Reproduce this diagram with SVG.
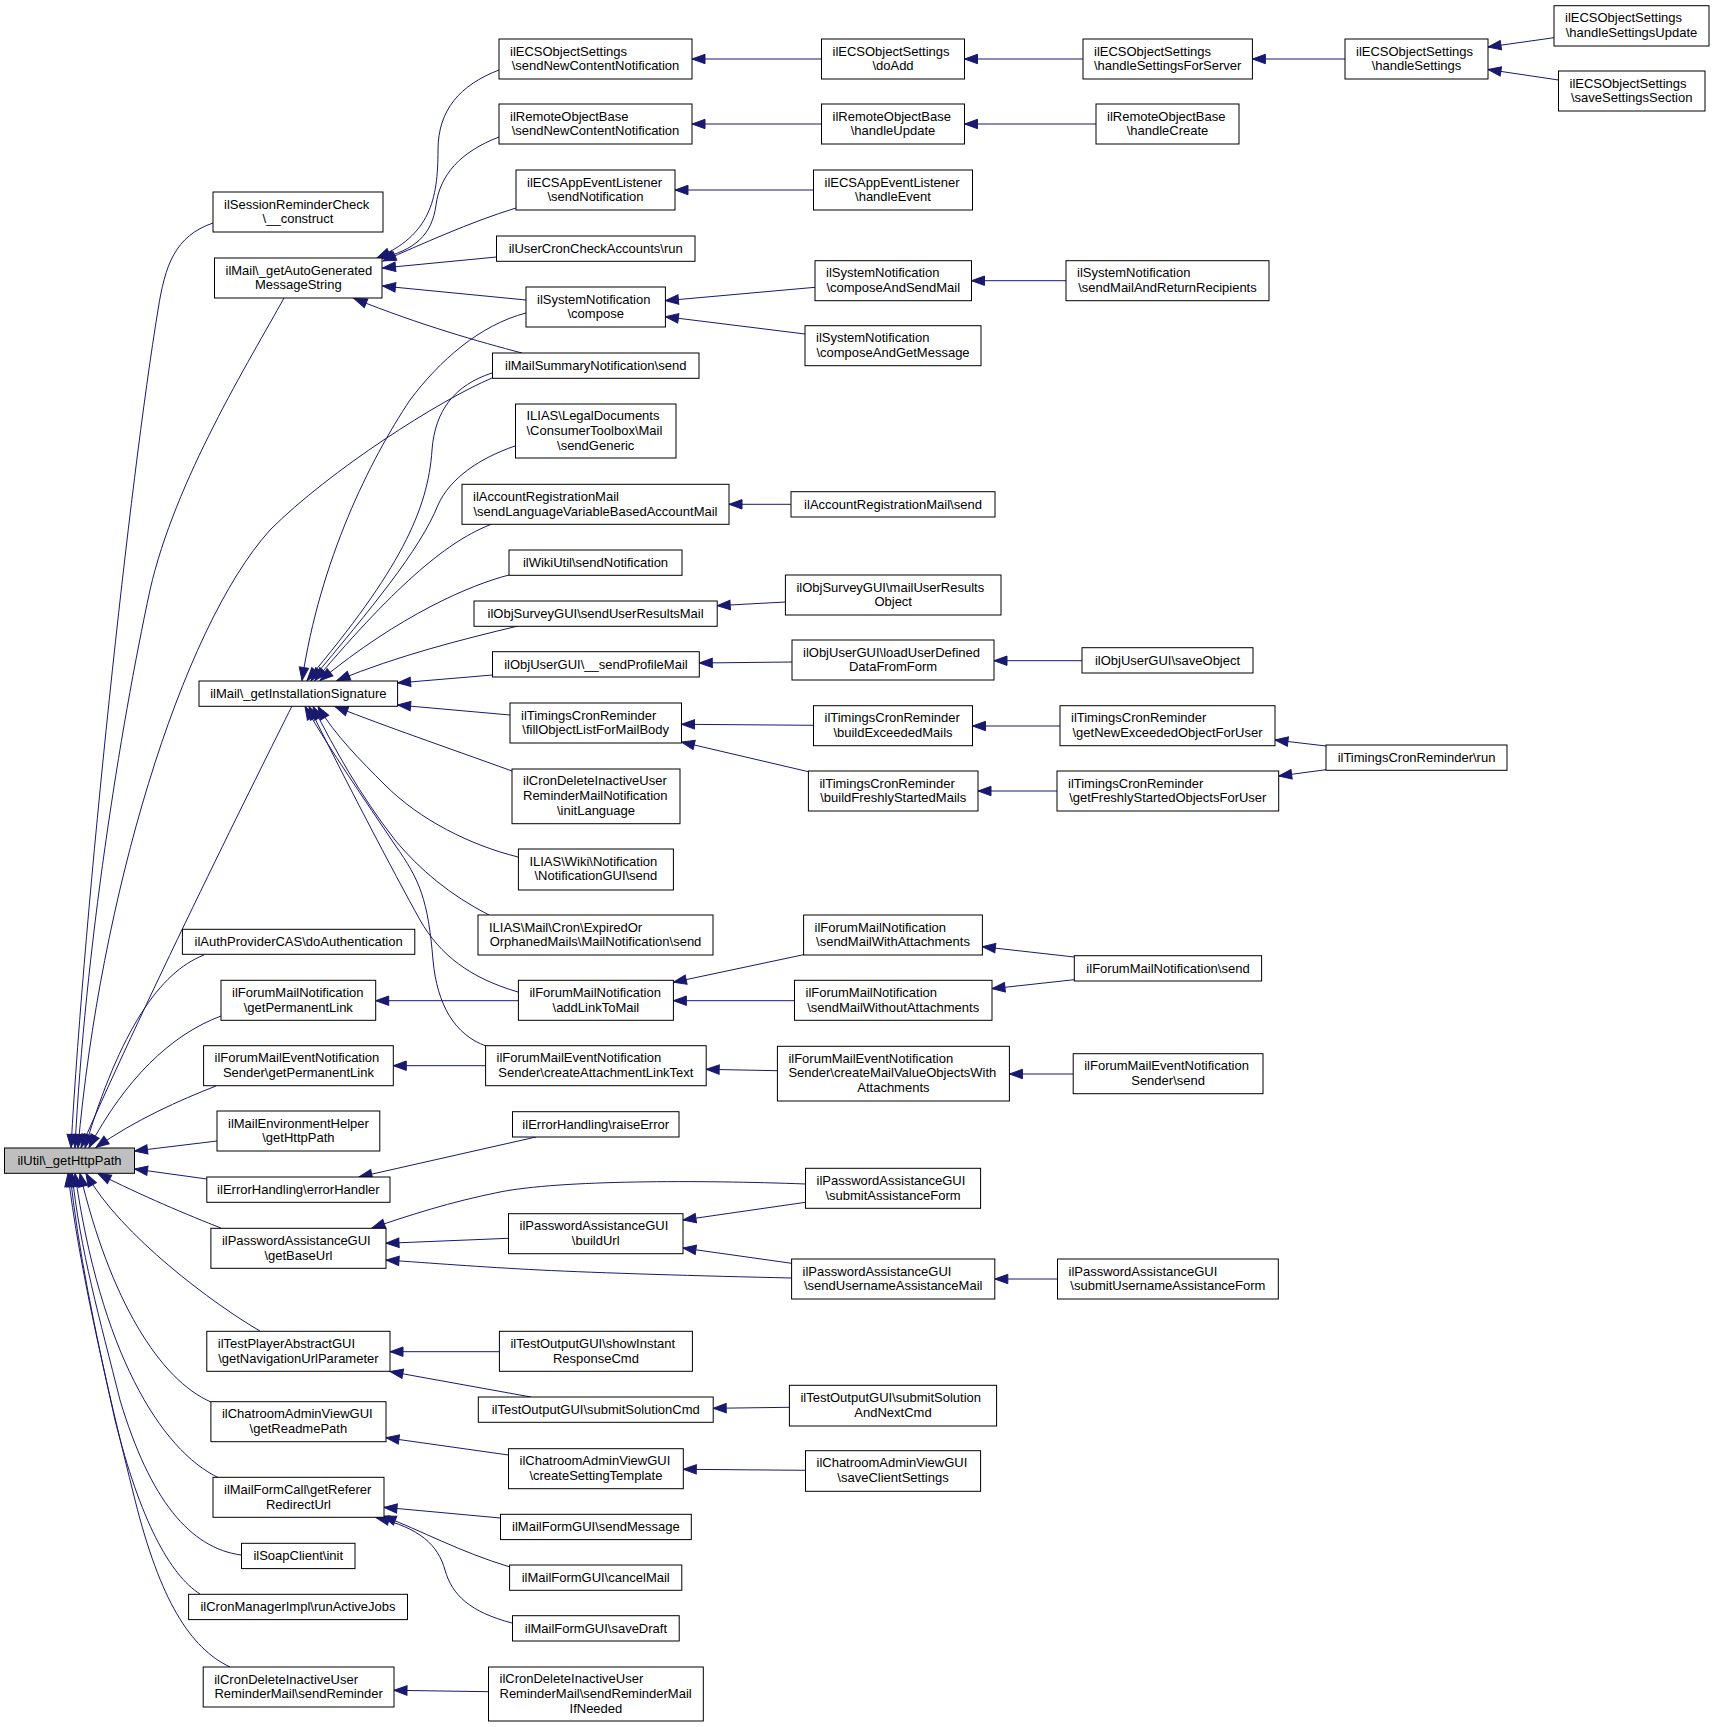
<svg xmlns="http://www.w3.org/2000/svg" width="1715" height="1727" viewBox="0 0 1715 1727">
<style>
.node rect{fill:#fff;stroke:#000;stroke-width:1}
#n_root rect{fill:#bfbfbf}
text{font-family:"Liberation Sans",Arial,Helvetica,sans-serif;font-size:13px;fill:#000}
.m{text-anchor:middle}
#edges path{fill:none;stroke:#191970;stroke-width:1;marker-end:url(#ah)}
</style>
<defs>
<marker id="ah" markerUnits="userSpaceOnUse" markerWidth="16" markerHeight="12" viewBox="-1 -6 16 12" refX="13" refY="0" orient="auto" overflow="visible"><path d="M0,-4.7 L13,0 L0,4.7 z" fill="#191970" stroke="#191970" stroke-width="1"/></marker>
</defs>
<rect x="0" y="0" width="1715" height="1727" fill="#fff"/>
<g id="edges">
<path d="M213,223 C175,236 165,265 158,310 C130,480 85,900 71,1147.5"/>
<path d="M284,298 C250,360 175,480 150,590 C120,730 85,950 75,1147.5"/>
<path d="M492,378 C440,400 330,470 270,530 C180,630 100,900 78,1147.5"/>
<path d="M292,706 C260,770 150,990 81,1147.5"/>
<path d="M204,955 C160,972 120,1030 85,1147.5"/>
<path d="M221,1016 C170,1035 125,1080 89,1147.5"/>
<path d="M216,1086 C180,1100 135,1120 96,1147.5"/>
<path d="M217,1141 L134.5,1151"/>
<path d="M207,1179 L134.5,1169"/>
<path d="M221,1228 C190,1216 140,1195 98,1173.5"/>
<path d="M260,1331 C215,1305 120,1235 86,1173.5"/>
<path d="M211,1402 C160,1380 110,1300 80,1173.5"/>
<path d="M219,1478 C160,1450 100,1350 75,1173.5"/>
<path d="M241,1555 C190,1548 150,1500 120,1400 C100,1320 80,1250 72,1173.5"/>
<path d="M200,1594 C170,1575 140,1520 115,1420 C95,1330 78,1250 70,1173.5"/>
<path d="M230,1667 C190,1648 160,1600 135,1500 C105,1380 78,1260 68,1173.5"/>
<path d="M499,70 C460,85 438,110 438,150 C438,200 430,235 377,258"/>
<path d="M499,137 C460,152 440,175 436,205 C432,235 415,250 380,258.5"/>
<path d="M516,208 C470,222 420,245 383,261"/>
<path d="M496.5,257 L382.5,268"/>
<path d="M526,300 L382.5,286"/>
<path d="M522,353 C480,342 420,325 354,298.5"/>
<path d="M526,313 C480,325 440,360 410,400 C370,460 320,560 302,680.5"/>
<path d="M492,373 C455,385 435,410 432,450 C428,510 400,570 307,680.5"/>
<path d="M515,446 C480,458 450,478 438,505 C420,550 370,610 311,680.5"/>
<path d="M492,524 C450,540 400,580 315,680.5"/>
<path d="M509,575 C470,585 400,615 320,680.5"/>
<path d="M518,626 C460,640 400,655 337,680.5"/>
<path d="M492.5,675 L397.6,683"/>
<path d="M510,715 L397.6,705"/>
<path d="M512,771 C440,745 390,728 335,706.5"/>
<path d="M518,857 C470,845 420,820 385,785 C360,760 335,735 318,706.5"/>
<path d="M489,915 C450,895 420,870 395,840 C360,795 335,750 313,706.5"/>
<path d="M518,992 C470,978 440,955 420,920 C395,875 340,770 309,706.5"/>
<path d="M486,1046 C455,1035 437,1005 433,960 C428,900 420,880 395,845 C365,800 330,750 305,706.5"/>
<path d="M821.5,59 L692,59"/>
<path d="M1083,59 L964.5,59"/>
<path d="M1345,59 L1252.4,59"/>
<path d="M1554,37.7 L1488,47"/>
<path d="M1558.5,80 L1488,69.5"/>
<path d="M821.5,124 L692,124"/>
<path d="M1096,124 L964.5,124"/>
<path d="M813.5,190 L675,190"/>
<path d="M815,287.3 L665.4,300.7"/>
<path d="M805,334 L665.4,316.7"/>
<path d="M1066,280.7 L971.5,280.7"/>
<path d="M791,504.3 L729,504.3"/>
<path d="M785.4,602 L717.2,605.7"/>
<path d="M792,662 L699.3,663"/>
<path d="M1082,660.7 L994,660.7"/>
<path d="M813.5,725.3 L681.5,724.3"/>
<path d="M808.4,771.7 L681.5,742"/>
<path d="M1060,726 L972.5,726"/>
<path d="M1057,791 L978,791"/>
<path d="M1326,746 L1275,740"/>
<path d="M1326,769.7 L1278.7,776"/>
<path d="M803.6,954.7 L673.4,982.3"/>
<path d="M794.5,1000.7 L673.4,1000.7"/>
<path d="M1074.3,957 L982.4,946.7"/>
<path d="M1074.3,979.7 L992,988.7"/>
<path d="M518.4,1000.7 L375.7,1000.7"/>
<path d="M485.6,1065.7 L393.3,1065.7"/>
<path d="M777.4,1070.7 L706.2,1069.3"/>
<path d="M1073.2,1074 L1009.4,1074"/>
<path d="M536,1137 L359,1177"/>
<path d="M805.5,1184 C700,1180 560,1180 500,1192 C450,1202 410,1215 372,1228"/>
<path d="M508.5,1238.3 L386,1243.3"/>
<path d="M792,1278 C700,1276 600,1273 540,1270 C480,1267 430,1263 386,1260"/>
<path d="M805.5,1202.3 L683,1220"/>
<path d="M791.6,1263.3 L683,1248"/>
<path d="M1057.5,1279 L994.8,1279"/>
<path d="M499.4,1351.7 L390,1351.7"/>
<path d="M531,1397 L390,1371.5"/>
<path d="M789.4,1407.3 L713.2,1408.3"/>
<path d="M508.5,1455 L386,1437.7"/>
<path d="M805.5,1470.3 L683.3,1469.3"/>
<path d="M500.5,1518 L384,1507.3"/>
<path d="M510,1567 C460,1552 420,1530 383,1516"/>
<path d="M512,1623 C470,1612 452,1595 445,1570 C438,1545 420,1528 376,1517.5"/>
<path d="M488.5,1691.7 L394,1690.3"/>
</g>
<g id="n_root" class="node"><rect x="4.5" y="1148" width="130" height="25.3"/><text class="m" x="69.5" y="1165">ilUtil\_getHttpPath</text></g>
<g id="n_session" class="node"><rect x="213" y="192" width="170" height="40"/><text x="224" y="208.7">ilSessionReminderCheck</text><text class="m" x="298" y="223.4">\__construct</text></g>
<g id="n_autogen" class="node"><rect x="214.5" y="258" width="167.5" height="40"/><text x="225.5" y="274.7">ilMail\_getAutoGenerated</text><text class="m" x="298.3" y="289.4">MessageString</text></g>
<g id="n_signature" class="node"><rect x="199" y="681" width="198.6" height="25.3"/><text class="m" x="298.3" y="698">ilMail\_getInstallationSignature</text></g>
<g id="n_auth" class="node"><rect x="182.4" y="929.3" width="232.4" height="25"/><text class="m" x="298.6" y="946.3">ilAuthProviderCAS\doAuthentication</text></g>
<g id="n_fmn_perm" class="node"><rect x="221" y="980.3" width="154.7" height="40"/><text x="232" y="997">ilForumMailNotification</text><text class="m" x="298.3" y="1011.7">\getPermanentLink</text></g>
<g id="n_fmen_perm" class="node"><rect x="203.6" y="1045.7" width="189.7" height="40"/><text x="214.6" y="1062.4">ilForumMailEventNotification</text><text class="m" x="298.4" y="1077.1">Sender\getPermanentLink</text></g>
<g id="n_envhelper" class="node"><rect x="217" y="1111" width="162.8" height="40"/><text x="228" y="1127.7">ilMailEnvironmentHelper</text><text class="m" x="298.4" y="1142.4">\getHttpPath</text></g>
<g id="n_errhandler" class="node"><rect x="206.8" y="1177" width="183.2" height="25.3"/><text class="m" x="298.4" y="1194">ilErrorHandling\errorHandler</text></g>
<g id="n_getbaseurl" class="node"><rect x="210.9" y="1228.3" width="175.1" height="40"/><text x="221.9" y="1245">ilPasswordAssistanceGUI</text><text class="m" x="298.4" y="1259.7">\getBaseUrl</text></g>
<g id="n_testplayer" class="node"><rect x="206.8" y="1331.3" width="183.2" height="40"/><text x="217.8" y="1348">ilTestPlayerAbstractGUI</text><text class="m" x="298.4" y="1362.7">\getNavigationUrlParameter</text></g>
<g id="n_readme" class="node"><rect x="210.9" y="1401.7" width="175.1" height="40"/><text x="221.9" y="1418.4">ilChatroomAdminViewGUI</text><text class="m" x="298.4" y="1433.1">\getReadmePath</text></g>
<g id="n_referer" class="node"><rect x="213" y="1477.3" width="171" height="40"/><text x="224" y="1494">ilMailFormCall\getReferer</text><text class="m" x="298.5" y="1508.7">RedirectUrl</text></g>
<g id="n_soap" class="node"><rect x="241.5" y="1543.3" width="113.5" height="25.3"/><text class="m" x="298.2" y="1560.3">ilSoapClient\init</text></g>
<g id="n_cronmgr" class="node"><rect x="188.6" y="1594.3" width="218.9" height="25.3"/><text class="m" x="298" y="1611.3">ilCronManagerImpl\runActiveJobs</text></g>
<g id="n_sendreminder" class="node"><rect x="203.2" y="1667" width="190.8" height="40"/><text x="214.2" y="1683.7">ilCronDeleteInactiveUser</text><text class="m" x="298.6" y="1698.4">ReminderMail\sendReminder</text></g>
<g id="n_ecs_sncn" class="node"><rect x="499" y="39" width="193" height="40"/><text x="510" y="55.7">ilECSObjectSettings</text><text class="m" x="595.5" y="70.4">\sendNewContentNotification</text></g>
<g id="n_rob_sncn" class="node"><rect x="499" y="104" width="193" height="40"/><text x="510" y="120.7">ilRemoteObjectBase</text><text class="m" x="595.5" y="135.4">\sendNewContentNotification</text></g>
<g id="n_ecsapp_sn" class="node"><rect x="516" y="170" width="159" height="40"/><text x="527" y="186.7">ilECSAppEventListener</text><text class="m" x="595.5" y="201.4">\sendNotification</text></g>
<g id="n_usercron" class="node"><rect x="496.5" y="236" width="198.5" height="25.3"/><text class="m" x="595.7" y="253">ilUserCronCheckAccounts\run</text></g>
<g id="n_compose" class="node"><rect x="526" y="287" width="139.4" height="40"/><text x="537" y="303.7">ilSystemNotification</text><text class="m" x="595.7" y="318.4">\compose</text></g>
<g id="n_mailsummary" class="node"><rect x="492.5" y="353" width="206.5" height="25.3"/><text class="m" x="595.7" y="370">ilMailSummaryNotification\send</text></g>
<g id="n_sendgeneric" class="node"><rect x="515.5" y="404" width="160.5" height="54"/><text x="526.5" y="420.3">ILIAS\LegalDocuments</text><text x="526.5" y="435">\ConsumerToolbox\Mail</text><text class="m" x="595.7" y="449.7">\sendGeneric</text></g>
<g id="n_sendlang" class="node"><rect x="462" y="484.3" width="267" height="40"/><text x="473" y="501">ilAccountRegistrationMail</text><text class="m" x="595.5" y="515.7">\sendLanguageVariableBasedAccountMail</text></g>
<g id="n_wikiutil" class="node"><rect x="509" y="550" width="173" height="25.3"/><text class="m" x="595.5" y="567">ilWikiUtil\sendNotification</text></g>
<g id="n_sendresults" class="node"><rect x="474" y="601" width="243.2" height="25.3"/><text class="m" x="595.6" y="618">ilObjSurveyGUI\sendUserResultsMail</text></g>
<g id="n_sendprofile" class="node"><rect x="492.5" y="651.7" width="206.8" height="25.3"/><text class="m" x="595.9" y="668.7">ilObjUserGUI\__sendProfileMail</text></g>
<g id="n_fillobj" class="node"><rect x="510" y="703" width="171.5" height="40"/><text x="521" y="719.7">ilTimingsCronReminder</text><text class="m" x="595.7" y="734.4">\fillObjectListForMailBody</text></g>
<g id="n_initlang" class="node"><rect x="512" y="769" width="168" height="54.7"/><text x="523" y="785.3">ilCronDeleteInactiveUser</text><text x="523" y="800">ReminderMailNotification</text><text class="m" x="596" y="814.7">\initLanguage</text></g>
<g id="n_notifgui" class="node"><rect x="518.4" y="849" width="155" height="41"/><text x="529.4" y="865.7">ILIAS\Wiki\Notification</text><text class="m" x="595.9" y="880.4">\NotificationGUI\send</text></g>
<g id="n_expired" class="node"><rect x="478" y="915" width="235" height="40"/><text x="489" y="931.7">ILIAS\Mail\Cron\ExpiredOr</text><text class="m" x="595.5" y="946.4">OrphanedMails\MailNotification\send</text></g>
<g id="n_addlink" class="node"><rect x="518.4" y="980.3" width="155" height="40"/><text x="529.4" y="997">ilForumMailNotification</text><text class="m" x="595.9" y="1011.7">\addLinkToMail</text></g>
<g id="n_createattach" class="node"><rect x="485.6" y="1045.7" width="220.6" height="40"/><text x="496.6" y="1062.4">ilForumMailEventNotification</text><text class="m" x="595.9" y="1077.1">Sender\createAttachmentLinkText</text></g>
<g id="n_raiseerror" class="node"><rect x="512.5" y="1111.7" width="166.5" height="25.3"/><text class="m" x="595.7" y="1128.7">ilErrorHandling\raiseError</text></g>
<g id="n_buildurl" class="node"><rect x="508.5" y="1213.7" width="174.5" height="40"/><text x="519.5" y="1230.4">ilPasswordAssistanceGUI</text><text class="m" x="595.7" y="1245.1">\buildUrl</text></g>
<g id="n_showinstant" class="node"><rect x="499.4" y="1331.3" width="193" height="40"/><text x="510.4" y="1348">ilTestOutputGUI\showInstant</text><text class="m" x="595.9" y="1362.7">ResponseCmd</text></g>
<g id="n_submitsol" class="node"><rect x="478.3" y="1397" width="234.9" height="25.3"/><text class="m" x="595.7" y="1414">ilTestOutputGUI\submitSolutionCmd</text></g>
<g id="n_createsetting" class="node"><rect x="508.5" y="1448.7" width="174.8" height="40"/><text x="519.5" y="1465.4">ilChatroomAdminViewGUI</text><text class="m" x="595.9" y="1480.1">\createSettingTemplate</text></g>
<g id="n_sendmessage" class="node"><rect x="500.5" y="1514.3" width="190.8" height="25.3"/><text class="m" x="595.9" y="1531.3">ilMailFormGUI\sendMessage</text></g>
<g id="n_cancelmail" class="node"><rect x="509.6" y="1565" width="172.2" height="25.3"/><text class="m" x="595.7" y="1582">ilMailFormGUI\cancelMail</text></g>
<g id="n_savedraft" class="node"><rect x="512.5" y="1615.7" width="166.7" height="25.3"/><text class="m" x="595.9" y="1632.7">ilMailFormGUI\saveDraft</text></g>
<g id="n_ifneeded" class="node"><rect x="488.5" y="1667" width="214.8" height="54"/><text x="499.5" y="1683.3">ilCronDeleteInactiveUser</text><text x="499.5" y="1698">ReminderMail\sendReminderMail</text><text class="m" x="595.9" y="1712.7">IfNeeded</text></g>
<g id="n_doadd" class="node"><rect x="821.5" y="39" width="143" height="40"/><text x="832.5" y="55.7">ilECSObjectSettings</text><text class="m" x="893" y="70.4">\doAdd</text></g>
<g id="n_handleupdate" class="node"><rect x="821.5" y="104" width="143" height="40"/><text x="832.5" y="120.7">ilRemoteObjectBase</text><text class="m" x="893" y="135.4">\handleUpdate</text></g>
<g id="n_handleevent" class="node"><rect x="813.5" y="170" width="159" height="40"/><text x="824.5" y="186.7">ilECSAppEventListener</text><text class="m" x="893" y="201.4">\handleEvent</text></g>
<g id="n_composesend" class="node"><rect x="815" y="260.7" width="156.5" height="40"/><text x="826" y="277.4">ilSystemNotification</text><text class="m" x="893.3" y="292.1">\composeAndSendMail</text></g>
<g id="n_composeget" class="node"><rect x="805" y="325.7" width="176" height="40"/><text x="816" y="342.4">ilSystemNotification</text><text class="m" x="893" y="357.1">\composeAndGetMessage</text></g>
<g id="n_accreg_send" class="node"><rect x="791" y="491.7" width="204" height="25.3"/><text class="m" x="893" y="508.7">ilAccountRegistrationMail\send</text></g>
<g id="n_mailuserresults" class="node"><rect x="785.4" y="575" width="215.6" height="40"/><text x="796.4" y="591.7">ilObjSurveyGUI\mailUserResults</text><text class="m" x="893.2" y="606.4">Object</text></g>
<g id="n_loaduser" class="node"><rect x="792" y="640" width="202" height="40"/><text x="803" y="656.7">ilObjUserGUI\loadUserDefined</text><text class="m" x="893" y="671.4">DataFromForm</text></g>
<g id="n_buildexceeded" class="node"><rect x="813.5" y="705.7" width="159" height="40"/><text x="824.5" y="722.4">ilTimingsCronReminder</text><text class="m" x="893" y="737.1">\buildExceededMails</text></g>
<g id="n_buildfreshly" class="node"><rect x="808.4" y="771" width="169.6" height="40"/><text x="819.4" y="787.7">ilTimingsCronReminder</text><text class="m" x="893.2" y="802.4">\buildFreshlyStartedMails</text></g>
<g id="n_sendwith" class="node"><rect x="803.6" y="915" width="178.8" height="40"/><text x="814.6" y="931.7">ilForumMailNotification</text><text class="m" x="893" y="946.4">\sendMailWithAttachments</text></g>
<g id="n_sendwithout" class="node"><rect x="794.5" y="980.3" width="197.5" height="40"/><text x="805.5" y="997">ilForumMailNotification</text><text class="m" x="893.2" y="1011.7">\sendMailWithoutAttachments</text></g>
<g id="n_createmailvalue" class="node"><rect x="777.4" y="1046.3" width="232" height="54.7"/><text x="788.4" y="1062.6">ilForumMailEventNotification</text><text x="788.4" y="1077.3">Sender\createMailValueObjectsWith</text><text class="m" x="893.4" y="1092">Attachments</text></g>
<g id="n_submitassist" class="node"><rect x="805.5" y="1168.3" width="175.1" height="40"/><text x="816.5" y="1185">ilPasswordAssistanceGUI</text><text class="m" x="893" y="1199.7">\submitAssistanceForm</text></g>
<g id="n_sendusername" class="node"><rect x="791.6" y="1259" width="203.2" height="40"/><text x="802.6" y="1275.7">ilPasswordAssistanceGUI</text><text class="m" x="893.2" y="1290.4">\sendUsernameAssistanceMail</text></g>
<g id="n_submitandnext" class="node"><rect x="789.4" y="1385.3" width="207.2" height="40.7"/><text x="800.4" y="1402">ilTestOutputGUI\submitSolution</text><text class="m" x="893" y="1416.7">AndNextCmd</text></g>
<g id="n_saveclient" class="node"><rect x="805.5" y="1450.7" width="175.1" height="40.6"/><text x="816.5" y="1467.4">ilChatroomAdminViewGUI</text><text class="m" x="893" y="1482.1">\saveClientSettings</text></g>
<g id="n_handleforserver" class="node"><rect x="1083" y="39" width="169.4" height="40"/><text x="1094" y="55.7">ilECSObjectSettings</text><text class="m" x="1167.7" y="70.4">\handleSettingsForServer</text></g>
<g id="n_handlecreate" class="node"><rect x="1096" y="104" width="143" height="40"/><text x="1107" y="120.7">ilRemoteObjectBase</text><text class="m" x="1167.5" y="135.4">\handleCreate</text></g>
<g id="n_sendmailreturn" class="node"><rect x="1066" y="260.7" width="203" height="40"/><text x="1077" y="277.4">ilSystemNotification</text><text class="m" x="1167.5" y="292.1">\sendMailAndReturnRecipients</text></g>
<g id="n_saveobject" class="node"><rect x="1082" y="647.7" width="171" height="25.3"/><text class="m" x="1167.5" y="664.7">ilObjUserGUI\saveObject</text></g>
<g id="n_getnewexceeded" class="node"><rect x="1060" y="705.7" width="215" height="40"/><text x="1071" y="722.4">ilTimingsCronReminder</text><text class="m" x="1167.5" y="737.1">\getNewExceededObjectForUser</text></g>
<g id="n_getfreshly" class="node"><rect x="1057" y="771" width="221.7" height="40"/><text x="1068" y="787.7">ilTimingsCronReminder</text><text class="m" x="1167.8" y="802.4">\getFreshlyStartedObjectsForUser</text></g>
<g id="n_fmn_send" class="node"><rect x="1074.3" y="955.7" width="187.3" height="25.3"/><text class="m" x="1168" y="972.7">ilForumMailNotification\send</text></g>
<g id="n_fmen_send" class="node"><rect x="1073.2" y="1053.7" width="189.8" height="40"/><text x="1084.2" y="1070.4">ilForumMailEventNotification</text><text class="m" x="1168.1" y="1085.1">Sender\send</text></g>
<g id="n_submitusername" class="node"><rect x="1057.5" y="1259" width="220.8" height="40"/><text x="1068.5" y="1275.7">ilPasswordAssistanceGUI</text><text class="m" x="1167.9" y="1290.4">\submitUsernameAssistanceForm</text></g>
<g id="n_handlesettings" class="node"><rect x="1345" y="39" width="143" height="40"/><text x="1356" y="55.7">ilECSObjectSettings</text><text class="m" x="1416.5" y="70.4">\handleSettings</text></g>
<g id="n_timingsrun" class="node"><rect x="1326" y="745" width="181" height="25.3"/><text class="m" x="1416.5" y="762">ilTimingsCronReminder\run</text></g>
<g id="n_settingsupdate" class="node"><rect x="1554" y="5.7" width="155" height="40.3"/><text x="1565" y="22.4">ilECSObjectSettings</text><text class="m" x="1631.5" y="37.1">\handleSettingsUpdate</text></g>
<g id="n_savesection" class="node"><rect x="1558.5" y="71" width="146.5" height="40"/><text x="1569.5" y="87.7">ilECSObjectSettings</text><text class="m" x="1631.7" y="102.4">\saveSettingsSection</text></g>
</svg>
